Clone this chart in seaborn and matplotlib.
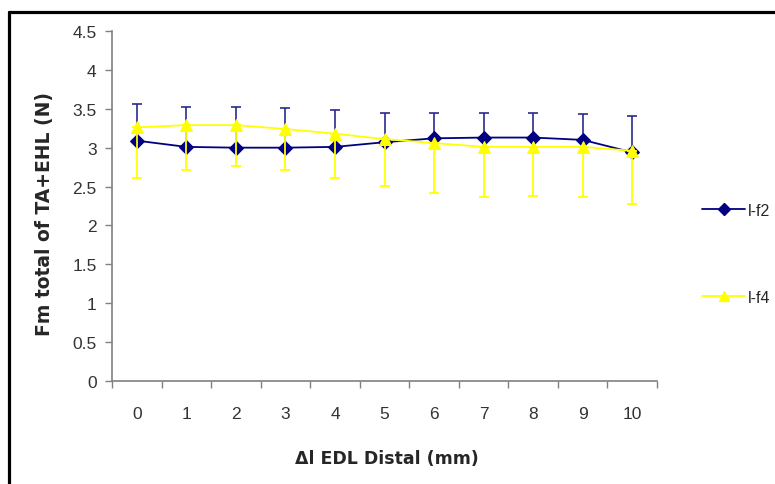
import matplotlib
matplotlib.use("Agg")
import matplotlib.pyplot as plt
from matplotlib.lines import Line2D
import numpy as np
import pandas as pd
import seaborn as sns

# Distal lengthening of EDL (mm)
positions = [0, 1, 2, 3, 4, 5, 6, 7, 8, 9, 10]

# Total muscle force of TA+EHL (N), mean values
lf2_mean = [3.09, 3.01, 3.00, 3.00, 3.01, 3.07, 3.12, 3.13, 3.13, 3.10, 2.94]
lf4_mean = [3.26, 3.29, 3.29, 3.24, 3.18, 3.11, 3.06, 3.01, 3.01, 3.01, 2.96]

# Upper end of the l-f2 error bars and lower end of the l-f4 error bars
lf2_upper = [3.56, 3.52, 3.52, 3.51, 3.48, 3.45, 3.45, 3.45, 3.45, 3.43, 3.41]
lf4_lower = [2.61, 2.71, 2.76, 2.71, 2.61, 2.51, 2.42, 2.37, 2.38, 2.37, 2.27]

series_names = ["l-f2", "l-f4"]
series_colors = ["#000080", "#FFFF00"]
series_markers = ["D", "^"]

y_ticks = [0, 0.5, 1, 1.5, 2, 2.5, 3, 3.5, 4, 4.5]
y_tick_labels = ["0", "0.5", "1", "1.5", "2", "2.5", "3", "3.5", "4", "4.5"]

sns.set_theme(style="white")
plt.rcParams["font.family"] = ["Liberation Sans", "DejaVu Sans"]

df = pd.DataFrame({
    "pos": positions * 2,
    "force": lf2_mean + lf4_mean,
    "series": [series_names[0]] * len(positions) + [series_names[1]] * len(positions),
})

fig = plt.figure(figsize=(7.75, 4.85), dpi=100)
ax = fig.add_axes([112 / 775, 1 - 382 / 485, (657 - 112) / 775, (382 - 32) / 485])

gray = "#808080"
tick_color = "#333333"

# l-f2: upward error bars, then its line
ax.errorbar(positions, lf2_mean,
            yerr=[np.zeros(len(positions)), np.array(lf2_upper) - np.array(lf2_mean)],
            fmt="none", ecolor="#2A2A90", elinewidth=1.2, capsize=3.7, capthick=1.2, zorder=2)
sns.lineplot(data=df[df["series"] == series_names[0]], x="pos", y="force",
             color=series_colors[0], marker=series_markers[0], markersize=7,
             markeredgecolor=series_colors[0], linewidth=1.3, ax=ax, zorder=3,
             legend=False)

# l-f4: downward error bars, then its line on top
ax.errorbar(positions, lf4_mean,
            yerr=[np.array(lf4_mean) - np.array(lf4_lower), np.zeros(len(positions))],
            fmt="none", ecolor=series_colors[1], elinewidth=1.3, capsize=3.7, capthick=1.3, zorder=4)
sns.lineplot(data=df[df["series"] == series_names[1]], x="pos", y="force",
             color=series_colors[1], marker=series_markers[1], markersize=8,
             markeredgecolor=series_colors[1], linewidth=1.3, ax=ax, zorder=5,
             legend=False)

ax.set_xlim(-0.5, 10.5)
ax.set_ylim(0, 4.5)

# Category axis: labels at the points, tick marks between categories
ax.set_xticks(positions)
ax.set_xticklabels([str(p) for p in positions], fontsize=12.5, color=tick_color)
ax.set_xticks(np.arange(-0.5, 11, 1), minor=True)
ax.tick_params(axis="x", which="major", length=0, pad=18)
ax.tick_params(axis="x", which="minor", length=5, width=1, color=gray, direction="out", bottom=True)

ax.set_yticks(y_ticks)
ax.set_yticklabels(y_tick_labels, fontsize=12.5, color=tick_color)
ax.tick_params(axis="y", length=5, width=1, color=gray, direction="out", left=True, pad=6)

for side in ["top", "right"]:
    ax.spines[side].set_visible(False)
for side in ["left", "bottom"]:
    ax.spines[side].set_color(gray)
    ax.spines[side].set_linewidth(1.2)

ax.set_xlabel("\u0394l EDL Distal (mm)", fontsize=12.5, fontweight="bold", family="DejaVu Sans")
ax.set_ylabel("Fm total of TA+EHL (N)", fontsize=13.5, fontweight="bold", family="DejaVu Sans")
ax.xaxis.set_label_coords(0.505, -0.195)
ax.yaxis.set_label_coords(-0.107, 0.48)

# Legend placed to the right of the plot area
handles = [
    Line2D([0], [0], color=series_colors[0], marker=series_markers[0], markersize=6, linewidth=1.3),
    Line2D([0], [0], color=series_colors[1], marker=series_markers[1], markersize=7, linewidth=1.3),
]
fig.legend(handles, series_names, loc="center left", bbox_to_anchor=(694 / 775, 1 - 255 / 485),
           frameon=False, fontsize=11.5, labelspacing=4.5, handlelength=2.7, handletextpad=0.15,
           borderpad=0)

# Partial frame around the figure (top and left edges)
fig.add_artist(Line2D([9 / 775, 1.0], [1 - 12.5 / 485, 1 - 12.5 / 485],
                      transform=fig.transFigure, color="black", linewidth=2.3))
fig.add_artist(Line2D([9 / 775, 9 / 775], [0.0, 1 - 12.5 / 485],
                      transform=fig.transFigure, color="black", linewidth=2.3))

fig.savefig("out.png", dpi=100, facecolor="white")
